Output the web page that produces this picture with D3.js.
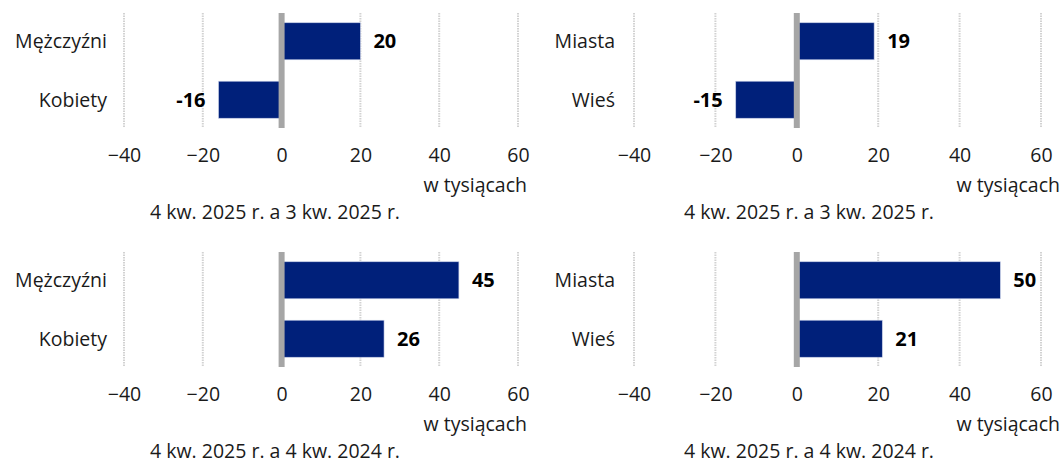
<!DOCTYPE html>
<html>
<head>
<meta charset="utf-8">
<script src="https://cdn.jsdelivr.net/npm/d3@7"></script>
<style>
  body { margin: 0; background: #fff; }
  svg text { font-family: "Open Sans", sans-serif; fill: #1a1a1a; }
</style>
</head>
<body>
<svg width="1062" height="465"></svg>
<script>
// Data
var sexCategories = ["Mężczyźni", "Kobiety"];
var placeCategories = ["Miasta", "Wieś"];
var sexQuarter = [20, -16];
var placeQuarter = [19, -15];
var sexYear = [45, 26];
var placeYear = [50, 21];
var tickValues = [-40, -20, 0, 20, 40, 60];
var unitLabel = "w tysiącach";
var subtitleQuarter = "4 kw. 2025 r. a 3 kw. 2025 r.";
var subtitleYear = "4 kw. 2025 r. a 4 kw. 2024 r.";

var svg = d3.select("svg");
var barColor = "#00207a";
var fontSize = "19.5px";

// one panel = one small bar chart
function panel(opts) {
    var g = svg.append("g");

    var x = d3.scaleLinear()
        .domain([-40, 60])
        .range([opts.x0, opts.x1]);

    var y = d3.scaleBand()
        .domain(opts.categories)
        .range([opts.top, opts.top + 115])
        .paddingInner(0.367)
        .paddingOuter(0.167);

    // dotted gridlines
    g.selectAll(".grid")
        .data(tickValues.filter(function(d) { return d !== 0; }))
        .enter()
        .append("line")
        .attr("x1", function(d) { return x(d); })
        .attr("x2", function(d) { return x(d); })
        .attr("y1", opts.top)
        .attr("y2", opts.top + 115)
        .attr("stroke", "#d2d2d2")
        .attr("stroke-width", 2)
        .attr("stroke-dasharray", "1.5,1");

    // bars
    g.selectAll(".bar")
        .data(opts.values)
        .enter()
        .append("rect")
        .attr("x", function(d) { return x(Math.min(0, d)); })
        .attr("y", function(d, i) { return y(opts.categories[i]); })
        .attr("width", function(d) { return Math.abs(x(d) - x(0)); })
        .attr("height", y.bandwidth())
        .attr("fill", barColor)
        .attr("stroke", "#c5cde6")
        .attr("stroke-width", 0.6);

    // zero line
    g.append("line")
        .attr("x1", x(0))
        .attr("x2", x(0))
        .attr("y1", opts.top)
        .attr("y2", opts.top + 115)
        .attr("stroke", "#a6a6a6")
        .attr("stroke-width", 6);

    // value labels
    g.selectAll(".val")
        .data(opts.values)
        .enter()
        .append("text")
        .attr("x", function(d) { return d < 0 ? x(d) - 13 : x(d) + 13; })
        .attr("y", function(d, i) { return y(opts.categories[i]) + y.bandwidth() / 2; })
        .attr("dy", "0.35em")
        .attr("text-anchor", function(d) { return d < 0 ? "end" : "start"; })
        .style("font-size", "20px")
        .style("font-weight", "bold")
        .style("fill", "#000")
        .text(function(d) { return d; });

    // category labels
    g.selectAll(".cat")
        .data(opts.categories)
        .enter()
        .append("text")
        .attr("x", opts.labelX)
        .attr("y", function(d) { return y(d) + y.bandwidth() / 2; })
        .attr("dy", "0.35em")
        .attr("text-anchor", "end")
        .style("font-size", fontSize)
        .text(function(d) { return d; });

    // x axis labels
    var axis = g.append("g")
        .attr("transform", "translate(0," + (opts.top + 149) + ")")
        .call(d3.axisBottom(x).tickValues(tickValues).tickSize(0).tickPadding(0));
    axis.select(".domain").remove();
    axis.selectAll("text")
        .attr("y", 0)
        .attr("dy", 0)
        .style("font-size", fontSize)
        .style("font-family", "'Open Sans', sans-serif")
        .style("fill", "#1a1a1a");

    g.append("text")
        .attr("x", opts.unitX)
        .attr("y", opts.top + 179)
        .attr("text-anchor", "end")
        .style("font-size", fontSize)
        .text(unitLabel);

    g.append("text")
        .attr("x", opts.subX)
        .attr("y", opts.top + 206)
        .attr("text-anchor", "middle")
        .style("font-size", fontSize)
        .text(opts.subtitle);
}

panel({ categories: sexCategories, values: sexQuarter, x0: 124, x1: 518, top: 13,
        labelX: 107, unitX: 527, subX: 275, subtitle: subtitleQuarter });
panel({ categories: placeCategories, values: placeQuarter, x0: 634, x1: 1041, top: 13,
        labelX: 615, unitX: 1060, subX: 809, subtitle: subtitleQuarter });
panel({ categories: sexCategories, values: sexYear, x0: 124, x1: 518, top: 252,
        labelX: 107, unitX: 527, subX: 275, subtitle: subtitleYear });
panel({ categories: placeCategories, values: placeYear, x0: 634, x1: 1041, top: 252,
        labelX: 615, unitX: 1060, subX: 809, subtitle: subtitleYear });
</script>
</body>
</html>
